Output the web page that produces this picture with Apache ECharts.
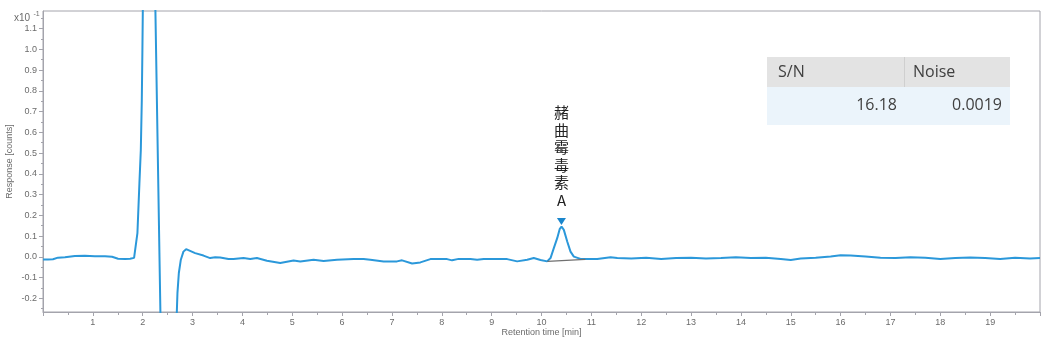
<!DOCTYPE html>
<html><head><meta charset="utf-8">
<script src="https://cdn.jsdelivr.net/npm/echarts@6/dist/echarts.min.js"></script>
<style>html,body{margin:0;padding:0;background:#fff}#c{width:1048px;height:344px}</style>
</head><body><div id="c"></div>
<script>
const times = [0,0.1,0.2,0.3,0.44,0.64,0.84,1.04,1.245,1.385,1.506,1.647,1.747,1.827,
1.861,1.894,1.934,1.962,1.982,1.994,2.002,2.04,2.12,2.2,2.255,2.355,2.42,2.55,2.65,2.685,2.697,2.725,2.765,2.817,2.871,
3.052,3.219,3.353,3.454,3.554,3.721,3.821,4.022,4.157,4.291,4.492,4.759,5.026,5.161,5.428,5.629,5.898,6.231,6.432,6.566,
6.833,7.102,7.203,7.404,7.57,7.771,8.106,8.207,8.339,8.574,8.709,8.841,9.042,9.311,9.512,9.713,9.845,9.98,10.114,10.181,
10.247,10.315,10.367,10.402,10.448,10.516,10.582,10.649,10.783,10.918,11.118,11.386,11.52,
11.8,12.1,12.4,12.7,13.0,13.3,13.6,13.9,14.2,14.5,14.8,15.0,15.2,15.5,15.8,16.0,16.2,16.5,16.8,17.1,17.4,17.7,18.0,18.3,18.6,18.9,19.2,19.5,19.8,20.0];
const responses = [-0.013,-0.013,-0.012,-0.004,-0.002,0.004,0.005,0.003,0.003,0.0,-0.009,-0.01,-0.009,-0.005,
0.0,0.114,0.354,0.514,0.755,0.995,1.18,1.9,2.4,1.9,1.185,-0.266,-0.6,-0.75,-0.45,-0.263,-0.175,-0.078,-0.014,0.025,0.037,
0.018,0.006,-0.006,-0.002,-0.003,-0.011,-0.01,-0.006,-0.01,-0.006,-0.019,-0.03,-0.018,-0.022,-0.014,-0.02,-0.014,-0.01,-0.01,-0.014,
-0.022,-0.022,-0.017,-0.032,-0.027,-0.011,-0.011,-0.017,-0.01,-0.011,-0.014,-0.01,-0.01,-0.011,-0.022,-0.014,-0.006,-0.015,-0.022,-0.006,
0.042,0.09,0.135,0.146,0.13,0.074,0.025,0.001,-0.01,-0.011,-0.01,-0.002,-0.006,
-0.008,-0.005,-0.01,-0.006,-0.004,-0.008,-0.006,-0.002,-0.006,-0.004,-0.01,-0.015,-0.008,-0.004,0.002,0.008,0.006,0.002,-0.004,-0.006,-0.002,-0.005,-0.01,-0.006,-0.003,-0.006,-0.01,-0.004,-0.008,-0.006];
const yTickValues = [-0.2,-0.1,0,0.1,0.2,0.3,0.4,0.5,0.6,0.7,0.8,0.9,1.0,1.1];
const yMinorValues = [-0.25,-0.15,-0.05,0.05,0.15,0.25,0.35,0.45,0.55,0.65,0.75,0.85,0.95,1.05,1.15];
const peakName = '赭曲霉毒素A';
const peakPoint = [10.40, 0.146];
const integBaseline = [[10.12, -0.022], [10.88, -0.012]];
const tableHeaders = ['S/N', 'Noise'];
const tableValues = ['16.18', '0.0019'];

const data = times.map((t, i) => [t, responses[i]]);
const chart = echarts.init(document.getElementById('c'), null, {renderer: 'canvas'});
const axisColor = '#a4a4ac';
const labelColor = '#6b6b6b';
const tf = '"Liberation Sans", Arial, sans-serif';
chart.setOption({
  animation: false,
  grid: {left: 43, right: 8, top: 11, bottom: 32, show: true, borderColor: axisColor, borderWidth: 1,
    containLabel: false, outerBoundsMode: 'none'},
  xAxis: {
    type: 'value', min: 0, max: 20, interval: 1,
    name: 'Retention time [min]', nameLocation: 'middle', nameGap: 16, nameMoveOverlap: false,
    nameTextStyle: {color: labelColor, fontSize: 9, fontFamily: tf},
    axisLine: {onZero: false, lineStyle: {color: axisColor}},
    axisTick: {show: true, length: 4, lineStyle: {color: axisColor}},
    minorTick: {show: true, splitNumber: 2, length: 3, lineStyle: {color: axisColor}},
    axisLabel: {color: labelColor, fontSize: 9, fontFamily: tf, margin: 6, showMinLabel: false, showMaxLabel: false},
    splitLine: {show: false}
  },
  yAxis: [{
    type: 'value', min: -0.266, max: 1.185,
    name: 'Response [counts]', nameLocation: 'middle', nameGap: 29, nameMoveOverlap: false,
    nameTextStyle: {color: labelColor, fontSize: 9, fontFamily: tf},
    axisLine: {show: true, onZero: false, lineStyle: {color: axisColor}},
    axisTick: {show: true, length: 4, customValues: yTickValues, lineStyle: {color: axisColor}},
    axisLabel: {color: labelColor, fontSize: 9, fontFamily: tf, margin: 6, customValues: yTickValues,
      formatter: v => (Math.round(v * 10) / 10).toFixed(1)},
    splitLine: {show: false}
  }, {
    type: 'value', min: -0.266, max: 1.185, position: 'left', offset: 0,
    axisLine: {show: false, onZero: false},
    axisTick: {show: true, length: 2, customValues: yMinorValues, lineStyle: {color: axisColor}},
    axisLabel: {show: false, customValues: yMinorValues},
    splitLine: {show: false}
  }],
  graphic: [
    {type: 'text', left: 14, top: 11, style: {text: '{a|x10} {b|-1}', rich: {
      a: {fontSize: 10, fill: labelColor, fontFamily: tf, verticalAlign: 'bottom'},
      b: {fontSize: 7, fill: labelColor, fontFamily: tf, verticalAlign: 'top', padding: [0, 0, 5, 0]}}}},
    {type: 'rect', shape: {x: 767, y: 57, width: 243, height: 30}, style: {fill: '#e3e3e3'}},
    {type: 'rect', shape: {x: 767, y: 87, width: 243, height: 38}, style: {fill: '#ebf4fb'}},
    {type: 'line', shape: {x1: 904.5, y1: 57, x2: 904.5, y2: 87}, style: {stroke: '#cfcfcf', lineWidth: 1}},
    {type: 'text', x: 778, y: 72, style: {text: tableHeaders[0], fontSize: 16, fill: '#404040', fontFamily: '"Open Sans", sans-serif', verticalAlign: 'middle'}},
    {type: 'text', x: 913, y: 72, style: {text: tableHeaders[1], fontSize: 16, fill: '#404040', fontFamily: '"Open Sans", sans-serif', verticalAlign: 'middle'}},
    {type: 'text', x: 897, y: 105, style: {text: tableValues[0], fontSize: 16, fill: '#404040', fontFamily: '"Open Sans", sans-serif', align: 'right', verticalAlign: 'middle'}},
    {type: 'text', x: 1002, y: 105, style: {text: tableValues[1], fontSize: 16, fill: '#404040', fontFamily: '"Open Sans", sans-serif', align: 'right', verticalAlign: 'middle'}}
  ],
  series: [{
    type: 'line', data: data, showSymbol: false, smooth: false, clip: true,
    lineStyle: {color: '#2b98da', width: 2},
    markLine: {
      silent: true, symbol: 'none', animation: false,
      lineStyle: {color: '#707070', width: 1.2, type: 'solid'}, label: {show: false},
      data: [[{coord: integBaseline[0]}, {coord: integBaseline[1]}]]
    },
    markPoint: {
      silent: true, animation: false,
      data: [{coord: peakPoint, symbol: 'triangle', symbolRotate: 180, symbolSize: [9, 7], symbolOffset: [0, -5],
        itemStyle: {color: '#1a86cc'},
        label: {show: true, position: 'top', distance: 9, formatter: peakName.split('').join('\n'),
          fontSize: 15, lineHeight: 17.5, color: '#222', fontFamily: '"Noto Sans CJK SC", sans-serif', align: 'center'}}]
    }
  }]
});
</script></body></html>
